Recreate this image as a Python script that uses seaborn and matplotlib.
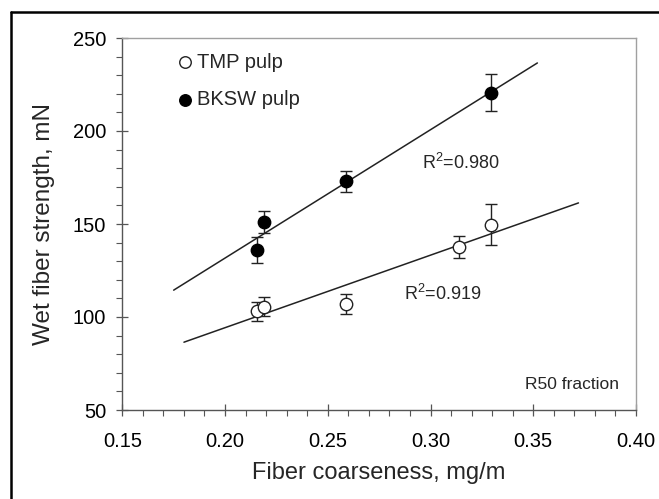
import numpy as np
import pandas as pd
import matplotlib
matplotlib.use("Agg")
import matplotlib.pyplot as plt
from matplotlib.lines import Line2D
from matplotlib.ticker import MultipleLocator
import seaborn as sns

# ---- data ----
tmp_x = [0.2154, 0.2190, 0.2587, 0.3140, 0.3294]
tmp_y = [103.0, 105.5, 107.0, 137.5, 149.5]
tmp_err = [5.0, 5.0, 5.5, 6.0, 11.0]

bksw_x = [0.2157, 0.2190, 0.2587, 0.3294]
bksw_y = [136.0, 151.0, 173.0, 220.5]
bksw_err = [7.0, 6.0, 5.7, 10.0]

tmp_fit_range = [0.180, 0.372]
bksw_fit_range = [0.175, 0.352]

tmp_r2 = "0.919"
bksw_r2 = "0.980"

x_ticks = [0.15, 0.20, 0.25, 0.30, 0.35, 0.40]
y_ticks = [50, 100, 150, 200, 250]

sns.set_theme(style="ticks")
plt.rcParams['font.family'] = ['Liberation Sans', 'DejaVu Sans']
plt.rcParams['mathtext.fontset'] = 'custom'
plt.rcParams['mathtext.rm'] = 'Liberation Sans'

fig = plt.figure(figsize=(6.59, 4.99), dpi=100)
ax = fig.add_axes([122.3 / 659, 1 - 410 / 499, (636 - 122.3) / 659, (410 - 38) / 499])

df_tmp = pd.DataFrame({"x": tmp_x, "y": tmp_y})
df_bksw = pd.DataFrame({"x": bksw_x, "y": bksw_y})

# regression lines
for xs, ys, rng in [(tmp_x, tmp_y, tmp_fit_range), (bksw_x, bksw_y, bksw_fit_range)]:
    k, b = np.polyfit(xs, ys, 1)
    xr = np.array(rng)
    sns.lineplot(x=xr, y=k * xr + b, ax=ax, color="#222222", lw=1.1, zorder=2)

# error bars
ax.errorbar(tmp_x, tmp_y, yerr=tmp_err, fmt="none", ecolor="#222222", elinewidth=1.0,
            capsize=4, capthick=1.0, zorder=3)
ax.errorbar(bksw_x, bksw_y, yerr=bksw_err, fmt="none", ecolor="#222222", elinewidth=1.0,
            capsize=4, capthick=1.0, zorder=3)

# points
sns.scatterplot(data=df_tmp, x="x", y="y", ax=ax, marker="o", s=80,
                facecolor="white", edgecolor="#222222", linewidth=1.0, zorder=4)
sns.scatterplot(data=df_bksw, x="x", y="y", ax=ax, marker="o", s=80,
                facecolor="black", edgecolor="black", linewidth=1.0, zorder=4)

ax.set_xlim(0.15, 0.40)
ax.set_ylim(50, 250)
ax.set_xticks(x_ticks)
ax.set_yticks(y_ticks)
ax.set_xticklabels([f"{v:.2f}" for v in x_ticks])
ax.set_yticklabels([str(v) for v in y_ticks])
ax.xaxis.set_minor_locator(MultipleLocator(0.01))
ax.yaxis.set_minor_locator(MultipleLocator(10))
ax.tick_params(which="major", direction="inout", length=9, width=0.9, color="#555555",
               labelsize=14.5, labelcolor="black")
ax.tick_params(axis="y", which="major", pad=7)
ax.tick_params(axis="x", which="major", pad=11)
ax.tick_params(which="minor", direction="out", length=4, width=0.8, color="#555555")

for s in ["left", "bottom"]:
    ax.spines[s].set_color("#555555")
    ax.spines[s].set_linewidth(1.0)
for s in ["top", "right"]:
    ax.spines[s].set_color("#a0a0a0")
    ax.spines[s].set_linewidth(1.0)

ax.set_xlabel("Fiber coarseness, mg/m", fontsize=17, labelpad=8)
ax.set_ylabel("Wet fiber strength, mN", fontsize=17.5, labelpad=13)

# legend
ax.plot([0.1805], [237.0], marker="o", ms=8.3, mfc="white", mec="#222222", mew=1.0,
        ls="none", clip_on=False)
ax.plot([0.1805], [216.7], marker="o", ms=8.3, mfc="black", mec="black", mew=1.0,
        ls="none", clip_on=False)
ax.text(0.1862, 237.0, "TMP pulp", fontsize=14.5, va="center", ha="left")
ax.text(0.1862, 216.7, "BKSW pulp", fontsize=14.5, va="center", ha="left")

ax.text(0.2957, 183.0, "R$^2$=" + bksw_r2, fontsize=13, va="center", ha="left")
ax.text(0.2871, 112.4, "R$^2$=" + tmp_r2, fontsize=13, va="center", ha="left")
ax.text(0.3917, 63.5, "R50 fraction", fontsize=12.5, va="center", ha="right")

# outer frame (cut off at right and bottom)
fig.add_artist(Line2D([11 / 659, 11 / 659], [-0.05, 1 - 12 / 499], transform=fig.transFigure,
                      color="black", lw=1.8))
fig.add_artist(Line2D([11 / 659, 1.05], [1 - 12 / 499, 1 - 12 / 499], transform=fig.transFigure,
                      color="black", lw=1.8))

fig.savefig("out.png", dpi=100)
